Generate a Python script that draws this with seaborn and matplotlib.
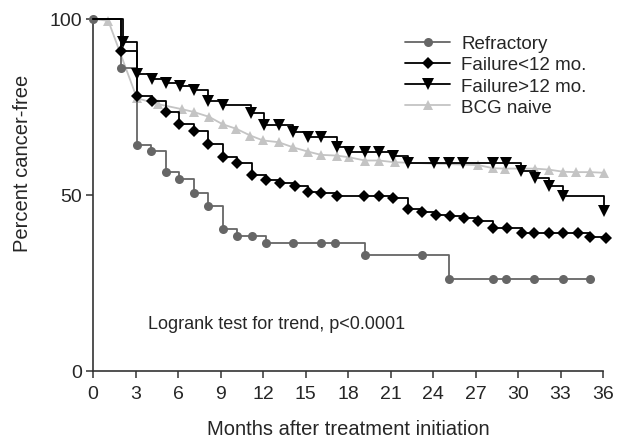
import matplotlib
matplotlib.use("Agg")
import matplotlib.pyplot as plt
import seaborn as sns
import pandas as pd

# Kaplan-Meier style curves
ref_t = [0, 2.0, 3.1, 4.1, 5.15, 6.1, 7.15, 8.15, 9.15, 10.15, 11.2, 12.2, 14.15, 16.1, 17.1,
         19.2, 23.2, 25.15, 28.2, 29.15, 31.15, 33.15, 35.1]
ref_s = [100, 86.1, 64.3, 62.4, 56.6, 54.5, 50.6, 46.8, 40.3, 38.4, 38.4, 36.4, 36.4, 36.4, 36.4,
         33.0, 33.0, 26.1, 26.1, 26.1, 26.1, 26.1, 26.1]

lt12_t = [0, 2.0, 3.1, 4.15, 5.15, 6.1, 7.15, 8.1, 9.15, 10.15, 11.2, 12.2, 13.2, 14.25, 15.2,
          16.1, 17.25, 19.15, 20.2, 21.2, 22.2, 23.2, 24.2, 25.2, 26.2, 27.2, 28.2, 29.2, 30.25,
          31.15, 32.2, 33.2, 34.2, 35.1, 36.2]
lt12_s = [100, 90.8, 78.0, 76.6, 73.5, 70.2, 68.3, 64.5, 60.7, 59.1, 55.6, 54.4, 53.4, 52.5, 50.8,
          50.6, 49.6, 49.6, 49.6, 49.1, 46.0, 45.2, 44.2, 44.1, 43.4, 42.7, 40.5, 40.5, 39.1,
          39.1, 39.1, 39.1, 39.1, 38.0, 37.8]

gt12_t = [0, 2.1, 3.1, 4.15, 5.15, 6.15, 7.15, 8.15, 9.15, 11.15, 12.1, 13.15, 14.15, 15.2, 16.1,
          17.2, 18.1, 19.2, 20.2, 21.2, 22.25, 24.1, 25.15, 26.1, 28.2, 29.15, 30.2, 31.2, 32.2,
          33.2, 36.1]
gt12_s = [100, 93.4, 84.4, 83.0, 81.8, 80.9, 79.9, 76.8, 75.6, 73.3, 69.9, 69.8, 67.8, 66.4, 66.4,
          63.5, 62.3, 62.3, 62.3, 61.1, 59.1, 59.1, 59.1, 59.1, 59.1, 59.1, 56.9, 54.7, 52.6,
          49.8, 45.4]

bcg_t = [0, 1.08, 3.1, 4.6, 6.26, 7.1, 8.2, 9.15, 10.12, 11.1, 12.0, 13.1, 14.15, 15.2, 16.1,
         17.2, 18.1, 19.2, 20.2, 21.3, 27.2, 28.25, 29.1, 31.2, 32.2, 33.2, 34.1, 35.1, 36.1]
bcg_s = [100, 99.5, 77.5, 75.8, 74.4, 73.6, 72.2, 70.1, 68.8, 66.9, 65.5, 65.0, 63.5, 62.3, 61.4,
         61.2, 60.7, 59.8, 59.8, 59.3, 58.5, 57.6, 57.5, 57.5, 57.2, 56.6, 56.5, 56.5, 56.3]

x_ticks = list(range(0, 37, 3))
y_ticks = [0, 50, 100]

sns.set_style("ticks")
plt.rcParams['font.family'] = ['Liberation Sans', 'DejaVu Sans']

fig = plt.figure(figsize=(6.3, 4.39), dpi=100)
ax = fig.add_axes([93 / 630, 1 - 372 / 439, 510 / 630, 352 / 439])

series = [
    ("Refractory", ref_t, ref_s, "#666666", "o", 6.5, "steps-post", slice(0, None), 3),
    ("Failure<12 mo.", lt12_t, lt12_s, "black", "D", 6.5, "steps-post", slice(1, None), 4),
    ("Failure>12 mo.", gt12_t, gt12_s, "black", "v", 8, "steps-post", slice(1, None), 5),
    ("BCG naive", bcg_t, bcg_s, "#c4c4c4", "^", 7.5, "default", slice(1, None), 2),
]

handles = []
for name, t, s, col, mk, ms, ds, me, z in series:
    df = pd.DataFrame({"t": t, "s": s})
    sns.lineplot(data=df, x="t", y="s", ax=ax, color=col, marker=mk, markersize=ms,
                 markeredgewidth=0, markevery=me, drawstyle=ds, linewidth=1.3,
                 label=name, zorder=z, clip_on=False, estimator=None, sort=False)
    handles.append(ax.lines[-1])

ax.set_xlim(0, 36)
ax.set_ylim(0, 100)
ax.set_xticks(x_ticks)
ax.set_yticks(y_ticks)
ax.tick_params(axis="both", labelsize=14, length=5, width=1.1, color="#333333")
ax.tick_params(axis="x", pad=5)
ax.tick_params(axis="y", pad=3)
for side in ["left", "bottom"]:
    ax.spines[side].set_color("#333333")
    ax.spines[side].set_linewidth(1.2)
sns.despine(ax=ax)

ax.set_xlabel("Months after treatment initiation", fontsize=14.5, labelpad=12)
ax.set_ylabel("Percent cancer-free", fontsize=14.5)
ax.yaxis.set_label_coords(-0.12, 0.594)

ax.text(3.9, 13.6, "Logrank test for trend, p<0.0001", fontsize=13, va="center", ha="left")

ax.legend(handles=handles, labels=[s[0] for s in series], loc="upper left",
          bbox_to_anchor=(405 / 630, 1 - 36 / 439), bbox_transform=fig.transFigure,
          frameon=False, fontsize=13.5, handlelength=2.4, handletextpad=0.6,
          labelspacing=0.22, borderpad=0, borderaxespad=0, numpoints=1)

fig.savefig("out.png", dpi=100)
